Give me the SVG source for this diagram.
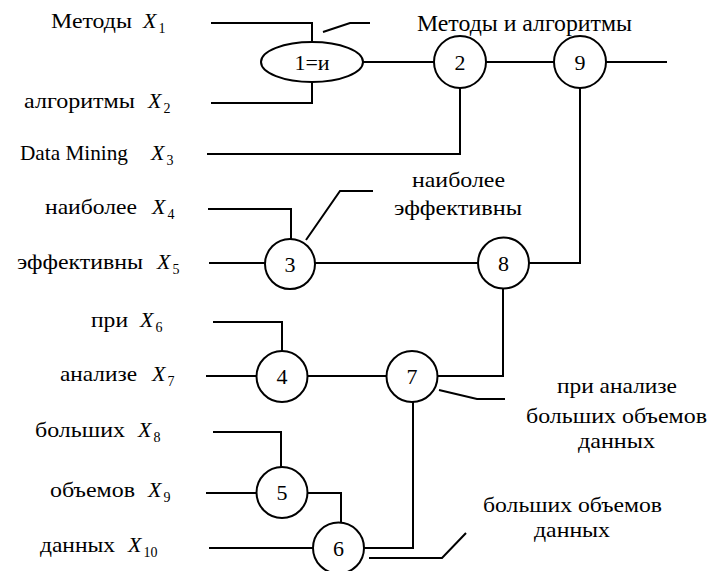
<svg xmlns="http://www.w3.org/2000/svg" width="710" height="571" viewBox="0 0 710 571">
  <rect width="710" height="571" fill="#fff"/>

  <!-- input labels: word + italic X with subscript -->
  <g id="inputs" font-size="22" fill="#000">
    <text style="font-family:'Liberation Serif',serif" x="51" y="28" textLength="81" lengthAdjust="spacingAndGlyphs">Методы</text><text style="font-family:'Liberation Serif',serif;font-style:italic" x="143" y="28">X<tspan style="font-style:normal" font-size="14" dx="2" dy="5">1</tspan></text>
    <text style="font-family:'Liberation Serif',serif" x="24" y="108" textLength="111" lengthAdjust="spacingAndGlyphs">алгоритмы</text><text style="font-family:'Liberation Serif',serif;font-style:italic" x="148" y="108">X<tspan style="font-style:normal" font-size="14" dx="2" dy="5">2</tspan></text>
    <text style="font-family:'Liberation Serif',serif" x="20" y="160" textLength="108" lengthAdjust="spacingAndGlyphs">Data Mining</text><text style="font-family:'Liberation Serif',serif;font-style:italic" x="151" y="160">X<tspan style="font-style:normal" font-size="14" dx="2" dy="5">3</tspan></text>
    <text style="font-family:'Liberation Serif',serif" x="45" y="214" textLength="92" lengthAdjust="spacingAndGlyphs">наиболее</text><text style="font-family:'Liberation Serif',serif;font-style:italic" x="152" y="214">X<tspan style="font-style:normal" font-size="14" dx="2" dy="5">4</tspan></text>
    <text style="font-family:'Liberation Serif',serif" x="17" y="269" textLength="126" lengthAdjust="spacingAndGlyphs">эффективны</text><text style="font-family:'Liberation Serif',serif;font-style:italic" x="157" y="269">X<tspan style="font-style:normal" font-size="14" dx="2" dy="5">5</tspan></text>
    <text style="font-family:'Liberation Serif',serif" x="91" y="327" textLength="37" lengthAdjust="spacingAndGlyphs">при</text><text style="font-family:'Liberation Serif',serif;font-style:italic" x="140" y="327">X<tspan style="font-style:normal" font-size="14" dx="2" dy="5">6</tspan></text>
    <text style="font-family:'Liberation Serif',serif" x="60" y="381" textLength="77" lengthAdjust="spacingAndGlyphs">анализе</text><text style="font-family:'Liberation Serif',serif;font-style:italic" x="152" y="381">X<tspan style="font-style:normal" font-size="14" dx="2" dy="5">7</tspan></text>
    <text style="font-family:'Liberation Serif',serif" x="35" y="437" textLength="90" lengthAdjust="spacingAndGlyphs">больших</text><text style="font-family:'Liberation Serif',serif;font-style:italic" x="138" y="437">X<tspan style="font-style:normal" font-size="14" dx="2" dy="5">8</tspan></text>
    <text style="font-family:'Liberation Serif',serif" x="50" y="497" textLength="85" lengthAdjust="spacingAndGlyphs">объемов</text><text style="font-family:'Liberation Serif',serif;font-style:italic" x="148" y="497">X<tspan style="font-style:normal" font-size="14" dx="2" dy="5">9</tspan></text>
    <text style="font-family:'Liberation Serif',serif" x="40" y="552" textLength="75" lengthAdjust="spacingAndGlyphs">данных</text><text style="font-family:'Liberation Serif',serif;font-style:italic" x="128" y="552">X<tspan style="font-style:normal" font-size="14" dx="2" dy="5">10</tspan></text>
  </g>

  <!-- connectors -->
  <g id="connectors" fill="none" stroke="#000" stroke-width="2">
    <polyline points="211,23 312,23 312,42"/>
    <polyline points="211,103 312,103 312,82"/>
    <line x1="363" y1="62" x2="434" y2="62"/>
    <line x1="486" y1="62" x2="554" y2="62"/>
    <line x1="606" y1="62" x2="667" y2="62"/>
    <polyline points="207,154 460,154 460,88"/>
    <polyline points="580,88 580,263 529,263"/>
    <polyline points="208,209 291,209 291,239"/>
    <line x1="209" y1="263" x2="265" y2="263"/>
    <line x1="315" y1="263" x2="478" y2="263"/>
    <polyline points="213,322 282,322 282,351"/>
    <line x1="206" y1="376" x2="257" y2="376"/>
    <line x1="308" y1="376" x2="387" y2="376"/>
    <polyline points="438,376 503,376 503,289"/>
    <polyline points="213,432 281,432 281,467"/>
    <line x1="206" y1="493" x2="257" y2="493"/>
    <polyline points="307,493 341,493 341,522"/>
    <line x1="209" y1="548" x2="313" y2="548"/>
    <polyline points="413,402 413,548 364,548"/>
    <!-- output taps -->
    <polyline points="323,32 350,23 370,23"/>
    <polyline points="306,240 340,191 373,191"/>
    <polyline points="439,390 477,399 505,399"/>
    <polyline points="369,558 442,558 466,533"/>
  </g>

  <!-- operator nodes: white fill, black outline, centred number -->
  <g id="nodes" font-size="22" text-anchor="middle">
    <g id="node-1"><ellipse cx="312" cy="62" rx="51" ry="20" fill="#fff" stroke="#000" stroke-width="2"/><text style="font-family:'Liberation Serif',serif" x="312" y="70">1=и</text></g>
    <g id="node-2"><circle cx="460" cy="62" r="26" fill="#fff" stroke="#000" stroke-width="2"/><text style="font-family:'Liberation Serif',serif" x="460" y="70">2</text></g>
    <g id="node-9"><circle cx="580" cy="62" r="26" fill="#fff" stroke="#000" stroke-width="2"/><text style="font-family:'Liberation Serif',serif" x="580" y="70">9</text></g>
    <g id="node-3"><circle cx="290" cy="264" r="25" fill="#fff" stroke="#000" stroke-width="2"/><text style="font-family:'Liberation Serif',serif" x="290" y="272">3</text></g>
    <g id="node-8"><circle cx="503.5" cy="263" r="25.5" fill="#fff" stroke="#000" stroke-width="2"/><text style="font-family:'Liberation Serif',serif" x="503.5" y="271">8</text></g>
    <g id="node-4"><circle cx="282" cy="376.5" r="25.5" fill="#fff" stroke="#000" stroke-width="2"/><text style="font-family:'Liberation Serif',serif" x="282" y="384">4</text></g>
    <g id="node-7"><circle cx="412" cy="376.5" r="25.5" fill="#fff" stroke="#000" stroke-width="2"/><text style="font-family:'Liberation Serif',serif" x="412" y="384">7</text></g>
    <g id="node-5"><circle cx="282" cy="492.5" r="25.5" fill="#fff" stroke="#000" stroke-width="2"/><text style="font-family:'Liberation Serif',serif" x="282" y="500">5</text></g>
    <g id="node-6"><circle cx="338.5" cy="548" r="25.5" fill="#fff" stroke="#000" stroke-width="2"/><text style="font-family:'Liberation Serif',serif" x="338.5" y="556">6</text></g>
  </g>

  <!-- intermediate result labels -->
  <g id="labels" font-size="22" fill="#000">
    <text style="font-family:'Liberation Serif',serif" x="417" y="31" font-size="24" textLength="215" lengthAdjust="spacingAndGlyphs">Методы и алгоритмы</text>
    <text style="font-family:'Liberation Serif',serif" x="412" y="187" textLength="93" lengthAdjust="spacingAndGlyphs">наиболее</text>
    <text style="font-family:'Liberation Serif',serif" x="394" y="215" textLength="128" lengthAdjust="spacingAndGlyphs">эффективны</text>
    <text style="font-family:'Liberation Serif',serif" x="557" y="393" textLength="120" lengthAdjust="spacingAndGlyphs">при анализе</text>
    <text style="font-family:'Liberation Serif',serif" x="526" y="423" textLength="181" lengthAdjust="spacingAndGlyphs">больших объемов</text>
    <text style="font-family:'Liberation Serif',serif" x="578" y="448" textLength="77" lengthAdjust="spacingAndGlyphs">данных</text>
    <text style="font-family:'Liberation Serif',serif" x="483" y="512" textLength="179" lengthAdjust="spacingAndGlyphs">больших объемов</text>
    <text style="font-family:'Liberation Serif',serif" x="534" y="537" textLength="76" lengthAdjust="spacingAndGlyphs">данных</text>
  </g>
</svg>
